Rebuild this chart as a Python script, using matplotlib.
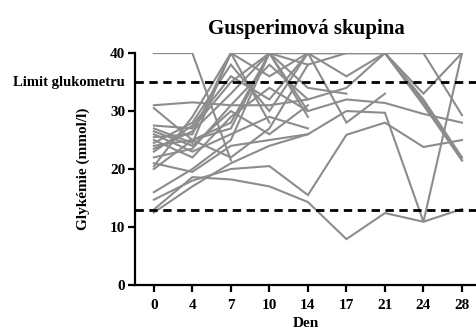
import numpy as np
import matplotlib.pyplot as plt
from matplotlib import transforms

plt.rcParams['font.family'] = 'Liberation Serif'
plt.rcParams['font.weight'] = 'bold'

nan = np.nan

# Sampling days (plotted as equally spaced categories)
days = [0, 4, 7, 10, 14, 17, 21, 24, 28]

# Blood glucose per animal (mmol/l); readings above meter range stored as 40
glucose = [
    [13.0, 18.6, 18.2, 17.0, 14.3, 7.9, 12.4, 10.9, 13.1],
    [14.7, 18.0, 20.0, 20.5, 15.5, 25.9, 28.0, 23.8, 25.0],
    [12.5, 17.0, 21.0, 24.0, 26.0, 30.0, 29.7, 10.9, 40.0],
    [40.0, 40.0, 21.5, nan, nan, nan, nan, nan, nan],
    [31.0, 31.5, 31.0, 31.0, 32.0, 34.0, 40.0, 40.0, 29.3],
    [30.5, 25.0, 28.0, 40.0, 40.0, 40.0, 40.0, 31.0, 21.5],
    [27.5, 27.0, 35.0, 40.0, 38.0, 40.0, 40.0, 31.5, 21.5],
    [27.0, 24.5, 40.0, 36.0, 40.0, 40.0, 40.0, 32.0, 22.0],
    [26.5, 24.0, 30.0, 26.0, 31.0, nan, nan, nan, nan],
    [26.0, 23.0, 26.0, 29.0, 27.0, nan, nan, nan, nan],
    [25.5, 26.0, 40.0, 40.0, 40.0, 36.0, 40.0, 33.0, 40.0],
    [25.0, 22.0, 29.0, 34.0, 30.0, 32.0, 31.4, 29.5, 28.0],
    [24.5, 28.0, 38.0, 30.0, 40.0, 40.0, 40.0, 40.0, 40.0],
    [24.0, 25.0, 27.0, 40.0, 34.0, 33.0, nan, nan, nan],
    [23.5, 26.5, 33.0, 40.0, 29.0, nan, nan, nan, nan],
    [23.0, 27.5, 36.0, 32.0, 40.0, 28.0, 33.0, nan, nan],
    [22.0, 23.5, 31.0, 38.0, 32.0, nan, nan, nan, nan],
    [21.0, 19.5, 24.0, 25.0, 26.0, nan, nan, nan, nan],
    [20.5, 29.0, 40.0, 28.0, nan, nan, nan, nan, nan],
    [20.0, 25.0, 22.0, 27.0, 38.0, nan, nan, nan, nan],
    [16.0, 20.0, 25.0, 40.0, 30.0, nan, nan, nan, nan],
]

meter_limit = 35
lower_ref = 13

fig = plt.figure(figsize=(4.77, 3.36), dpi=100)
ax = fig.add_axes([0.283, 0.152, 0.717, 0.690])

x = np.arange(len(days))
for row in glucose:
    ax.plot(x, row, color='#8c8c8c', lw=1.5, solid_joinstyle='miter')

ax.axhline(meter_limit, color='black', lw=2, ls=(0, (3, 2)))
ax.axhline(lower_ref, color='black', lw=2, ls=(0, (3, 2)))

trans = transforms.blended_transform_factory(ax.transAxes, ax.transData)
ax.text(-0.03, meter_limit, 'Limit glukometru', transform=trans,
        ha='right', va='center', fontsize=10.5, fontweight='bold')

ax.set_xlim(-0.49, 8.39)
ax.set_ylim(0, 40)
ax.set_xticks(x)
ax.set_xticklabels([str(d) for d in days])
ax.set_yticks([0, 10, 20, 30, 40])

for side in ['top', 'right']:
    ax.spines[side].set_visible(False)
for side in ['left', 'bottom']:
    ax.spines[side].set_linewidth(1.6)
ax.tick_params(width=1.6, length=5, labelsize=11)
ax.tick_params(axis='x', pad=5)
ax.tick_params(axis='y', pad=2)

ax.set_title('Gusperimová skupina', fontsize=15, fontweight='bold', pad=14)
ax.set_xlabel('Den', fontsize=11, fontweight='bold', labelpad=4)
ax.set_ylabel('Glykémie (mmol/l)', fontsize=11, fontweight='bold', labelpad=14)

fig.savefig('out.png', dpi=100)
